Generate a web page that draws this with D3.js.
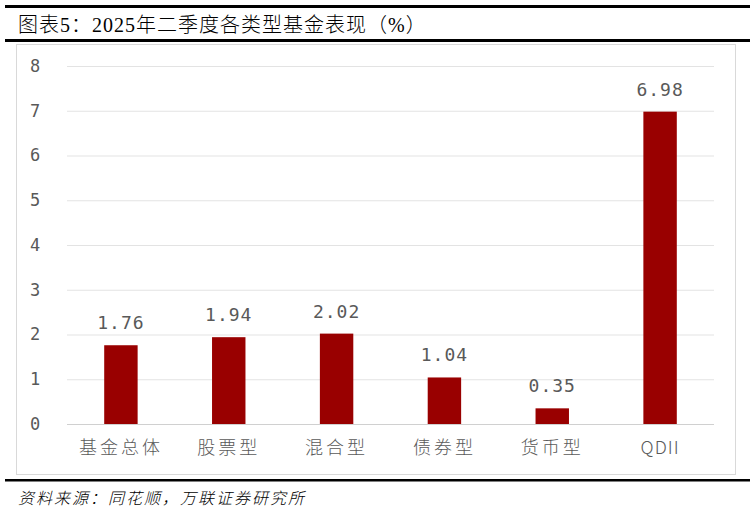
<!DOCTYPE html>
<html><head><meta charset="utf-8">
<script src="https://cdn.jsdelivr.net/npm/d3@7"></script>
<style>body{margin:0;background:#fff;}svg{display:block;}</style>
</head><body>
<svg id="c" width="755" height="512"></svg>
<script>
const categories = ["基金总体","股票型","混合型","债券型","货币型","QDII"];
const values = [1.76,1.94,2.02,1.04,0.35,6.98];
const yTicks = [0,1,2,3,4,5,6,7,8];
const title = "图表5：2025年二季度各类型基金表现（%）";
const source = "资料来源：同花顺，万联证券研究所";

const svg = d3.select("#c");
// top rules
svg.append("rect").attr("x",5).attr("y",5).attr("width",745).attr("height",3).attr("fill","#000");
svg.append("text").attr("x",18).attr("y",32).attr("font-family","'Liberation Serif','Noto Sans CJK SC',serif")
  .attr("font-size",20).attr("font-weight",300).attr("letter-spacing",1).attr("fill","#000").text(title);
svg.append("rect").attr("x",5).attr("y",39).attr("width",745).attr("height",3).attr("fill","#000");
// chart box
svg.append("rect").attr("x",16.5).attr("y",44.5).attr("width",719).attr("height",430)
  .attr("fill","#fff").attr("stroke","#d9d9d9").attr("stroke-width",1);
// bottom rule
svg.append("rect").attr("x",5).attr("y",479).attr("width",745).attr("height",2.5).attr("fill","#000");
svg.append("text").attr("x",18).attr("y",504).attr("font-family","'Noto Sans CJK SC',sans-serif")
  .attr("font-size",16).attr("font-style","italic").attr("font-weight",300).attr("letter-spacing",2).attr("fill","#000")
  .text(source);

const x = d3.scaleBand().domain(categories).range([67,714]).paddingInner(0.69).paddingOuter(0.345);
const y = d3.scaleLinear().domain([0,8]).range([424,66]);

// gridlines
svg.append("g").selectAll("line").data(yTicks).join("line")
  .attr("x1",67).attr("x2",714).attr("y1",d=>y(d)+0.5).attr("y2",d=>y(d)+0.5)
  .attr("stroke",d=>d===0?"#d0d0d0":"#e3e3e3").attr("stroke-width",1);

const yAxis = d3.axisLeft(y).tickValues(yTicks).tickSize(0).tickPadding(0);
const gy = svg.append("g").attr("transform","translate(41,0)").call(yAxis);
gy.select(".domain").remove();
gy.selectAll("text").attr("font-family","'DejaVu Sans Mono','Noto Sans',sans-serif").attr("font-size",17).attr("fill","#595959").attr("text-anchor","middle").attr("dx",-6);

// bars
svg.append("g").selectAll("rect").data(values).join("rect")
  .attr("x",(d,i)=>x(categories[i])).attr("width",x.bandwidth())
  .attr("y",d=>y(d)).attr("height",d=>y(0)-y(d)).attr("fill","#990000");

// value labels
svg.append("g").selectAll("text").data(values).join("text")
  .attr("x",(d,i)=>x(categories[i])+x.bandwidth()/2).attr("y",d=>y(d)-16)
  .attr("text-anchor","middle").attr("font-family","'DejaVu Sans Mono','Noto Sans',sans-serif")
  .attr("font-size",18).attr("fill","#595959").attr("letter-spacing",1).text(d=>d.toFixed(2));

// x axis labels
const xAxis = d3.axisBottom(x).tickSize(0).tickPadding(17);
const gx = svg.append("g").attr("transform","translate(0,424)").call(xAxis);
gx.select(".domain").remove();
gx.selectAll("text").attr("font-family","'Noto Sans CJK SC',sans-serif").attr("font-size",18).attr("fill","#595959")
  .attr("letter-spacing",d=>d==="QDII"?1:3).attr("font-weight",300);
</script>
</body></html>
